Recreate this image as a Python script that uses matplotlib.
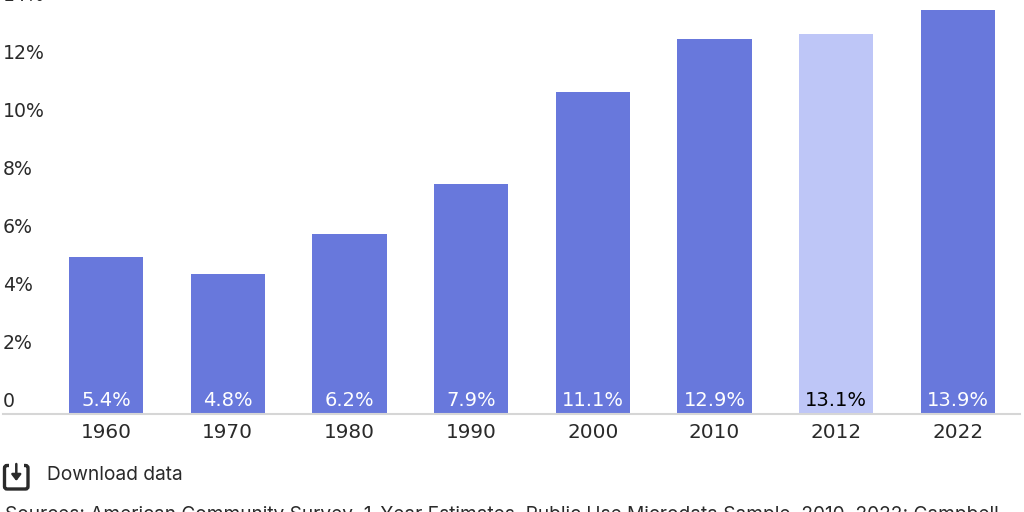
import matplotlib.pyplot as plt
from matplotlib.patches import FancyBboxPatch, Rectangle

years = ["1960", "1970", "1980", "1990", "2000", "2010", "2012", "2022"]
shares = [5.4, 4.8, 6.2, 7.9, 11.1, 12.9, 13.1, 13.9]
y_ticks = [0, 2, 4, 6, 8, 10, 12, 14]
y_labels = ["0", "2%", "4%", "6%", "8%", "10%", "12%", "14%"]
source = "Sources: American Community Survey, 1-Year Estimates, Public Use Microdata Sample, 2010, 2022; Campbell"

blue = "#6878dc"
light = "#bec6f7"
dark = "#2a2a2a"
font = "Inter"
num_font = "DejaVu Sans"

fig = plt.figure(figsize=(10.24, 5.12), dpi=100)
ax = fig.add_axes([3 / 1024, 1 - 413.5 / 512, 1017 / 1024, 413.5 / 512])

colors = [light if y == "2012" else blue for y in years]
x = range(len(years))
ax.bar(x, shares, width=0.61, color=colors)
ax.set_xlim(-0.846, 7.51)
ax.set_ylim(0, 413.5 / 29)

# value labels sit inside the foot of each bar
for i, v in enumerate(shares):
    c = "black" if years[i] == "2012" else "white"
    ax.text(i, 0.45, f"{v}%", ha="center", va="center", color=c, fontsize=14, family=num_font)

# y labels are left aligned and float above their level
for t, lab in zip(y_ticks, y_labels):
    ax.annotate(lab, xy=(0, t), xycoords=("axes fraction", "data"), xytext=(0, 8.7),
                textcoords="offset points", ha="left", va="center", color=dark,
                fontsize=13.6, family=num_font, annotation_clip=False)

ax.set_yticks([])
ax.set_xticks(list(x))
ax.set_xticklabels(years, fontsize=14.4, color=dark, family=num_font)
ax.tick_params(axis="x", length=0, pad=6.5)
for s in ["top", "left", "right"]:
    ax.spines[s].set_visible(False)
ax.spines["bottom"].set_color("#d6d6d6")
ax.spines["bottom"].set_linewidth(1.5)
ax.patch.set_alpha(0)

# download icon and text, in pixel coordinates of the figure
ov = fig.add_axes([0, 0, 1, 1])
ov.set_xlim(0, 1024)
ov.set_ylim(512, 0)
ov.axis("off")
ov.add_patch(FancyBboxPatch((4.5, 465.5), 23.5, 23.5, boxstyle="round,pad=0,rounding_size=2.5",
                            fc="none", ec=dark, lw=2.4))
ov.add_patch(Rectangle((9, 462), 15, 6, fc="white", ec="none"))
ov.annotate("", xy=(16.3, 481), xytext=(16.3, 464),
            arrowprops=dict(arrowstyle="-|>,head_width=0.28,head_length=0.36", color=dark, lw=1.8,
                            shrinkA=0, shrinkB=0))
ov.text(47, 474.5, "Download data", ha="left", va="center", color=dark, fontsize=13.8, family=font)
ov.text(5, 515, source, ha="left", va="center", color=dark, fontsize=13.72, family=font, clip_on=False)

fig.savefig("out.png", dpi=100)
